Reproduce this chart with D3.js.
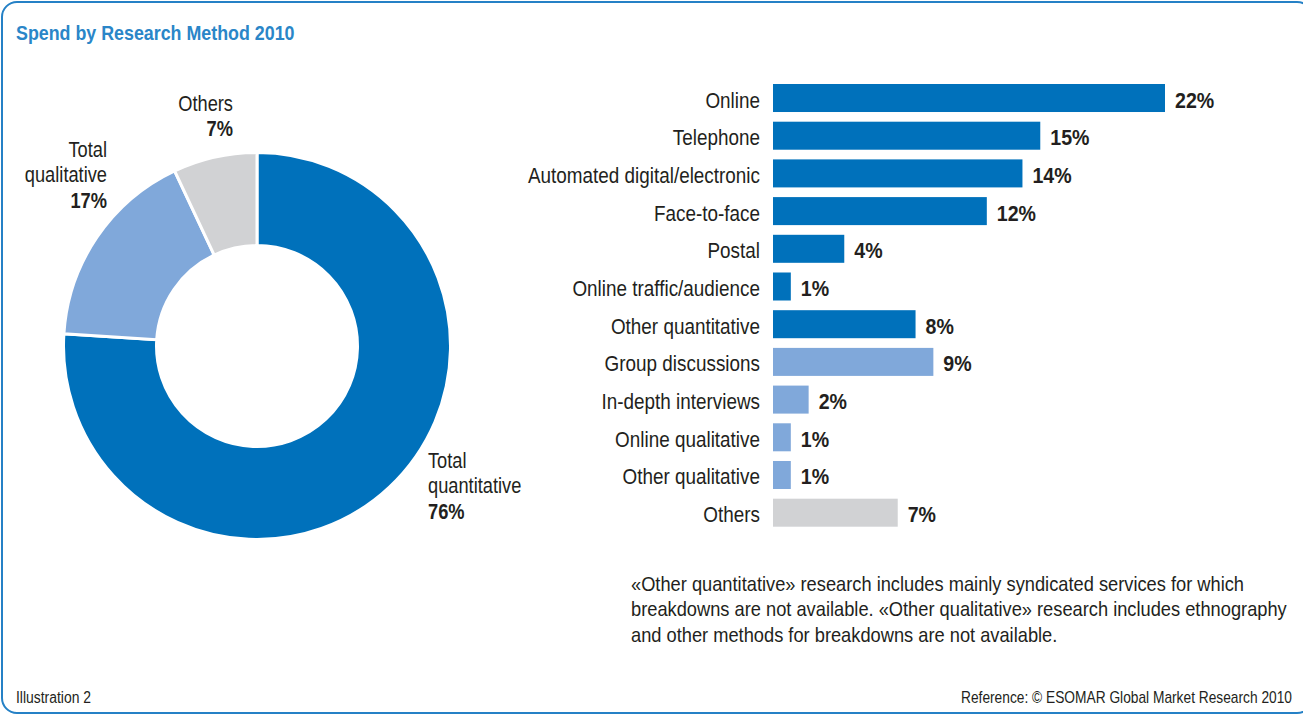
<!DOCTYPE html>
<html>
<head>
<meta charset="utf-8">
<script src="https://cdn.jsdelivr.net/npm/d3@7"></script>
<style>
  html, body { margin: 0; padding: 0; background: #fff; }
  svg { display: block; }
  text { font-family: "Liberation Sans", Arial, sans-serif; fill: #231f20; }
</style>
</head>
<body>
<svg id="chart" width="1303" height="720"></svg>
<script>
// Share of spend by research type (donut)
const groupNames = ["Total quantitative", "Total qualitative", "Others"];
const groupValues = [76, 17, 7];

// Spend by individual method (bars)
const methods = [
  "Online", "Telephone", "Automated digital/electronic", "Face-to-face", "Postal",
  "Online traffic/audience", "Other quantitative", "Group discussions",
  "In-depth interviews", "Online qualitative", "Other qualitative", "Others"
];
const methodValues = [22, 15, 14, 12, 4, 1, 8, 9, 2, 1, 1, 7];
const methodGroups = [
  "Total quantitative", "Total quantitative", "Total quantitative", "Total quantitative", "Total quantitative",
  "Total quantitative", "Total quantitative", "Total qualitative",
  "Total qualitative", "Total qualitative", "Total qualitative", "Others"
];

const footnoteLines = [
  "«Other quantitative» research includes mainly syndicated services for which",
  "breakdowns are not available. «Other qualitative» research includes ethnography",
  "and other methods for breakdowns are not available."
];

const svg = d3.select("#chart");
const NARROW = 0.83; // horizontal squeeze for a condensed look

// Text helper: a condensed text block anchored at (x, y)
function label(parent, x, y, lines, opts = {}) {
  const g = parent.append("g")
    .attr("transform", `translate(${x},${y}) scale(${opts.k || NARROW},1)`);
  const t = g.append("text")
    .attr("text-anchor", opts.anchor || "start")
    .style("font-size", (opts.size || 22) + "px");
  if (opts.weight) t.style("font-weight", opts.weight);
  if (opts.fill) t.style("fill", opts.fill);
  [].concat(lines).forEach((s, i) => {
    const sp = t.append("tspan").attr("x", 0).attr("dy", i === 0 ? 0 : (opts.lh || 25.5));
    if (typeof s === "object") { sp.text(s.text); if (s.bold) sp.style("font-weight", "bold"); }
    else sp.text(s);
  });
  return t;
}

const color = d3.scaleOrdinal()
  .domain(groupNames)
  .range(["#0071bb", "#80a8da", "#d1d2d4"]);

// Frame
svg.append("rect")
  .attr("x", 2).attr("y", 2)
  .attr("width", 1310).attr("height", 711)
  .attr("rx", 15).attr("ry", 15)
  .attr("fill", "none")
  .attr("stroke", "#2581c6")
  .attr("stroke-width", 2);

// Title
label(svg, 16, 40, "Spend by Research Method 2010",
  { size: 21, weight: "bold", fill: "#2a86c8", k: 0.85 });

// Donut
const cx = 257, cy = 346;
const pie = d3.pie().sort(null).value(d => d.value);
const arc = d3.arc().innerRadius(100.5).outerRadius(193.5);
const donutData = groupNames.map((n, i) => ({ name: n, value: groupValues[i] }));

const donut = svg.append("g").attr("transform", `translate(${cx},${cy})`);
donut.selectAll("path")
  .data(pie(donutData))
  .join("path")
  .attr("d", arc)
  .attr("fill", d => color(d.data.name))
  .attr("stroke", "#fff")
  .attr("stroke-width", 3);

// Donut labels
label(svg, 233, 111, ["Others", { text: groupValues[2] + "%", bold: true }], { anchor: "end" });
label(svg, 107, 157, ["Total", "qualitative", { text: groupValues[1] + "%", bold: true }], { anchor: "end" });
label(svg, 428, 468, ["Total", "quantitative", { text: groupValues[0] + "%", bold: true }], { anchor: "start" });

// Bars
const x = d3.scaleLinear().domain([0, 22]).range([773, 1165]);
const y = d3.scaleBand().domain(methods).range([84, 526.7]).paddingInner(0.257).paddingOuter(0);

const rowData = methods.map((m, i) => ({ name: m, value: methodValues[i], group: methodGroups[i] }));
const bars = svg.append("g");

bars.selectAll("rect")
  .data(rowData)
  .join("rect")
  .attr("x", x(0))
  .attr("y", d => y(d.name))
  .attr("width", d => x(d.value) - x(0))
  .attr("height", y.bandwidth())
  .attr("fill", d => color(d.group));

rowData.forEach(d => {
  const by = y(d.name) + y.bandwidth() / 2 + 9.5;
  label(bars, 760, by, d.name, { anchor: "end", size: 22.5, k: 0.84 });
  label(bars, x(d.value) + 10, by, { text: d.value + "%", bold: true }, { size: 22.5, k: 0.87 });
});

// Footnote
label(svg, 631, 591, footnoteLines, { size: 21, lh: 25.5, k: 0.87 });

// Footer
label(svg, 16, 703, "Illustration 2", { size: 16, k: 0.87 });
label(svg, 1292, 703, "Reference: © ESOMAR Global Market Research 2010", { size: 16, anchor: "end", k: 0.86 });
</script>
</body>
</html>
